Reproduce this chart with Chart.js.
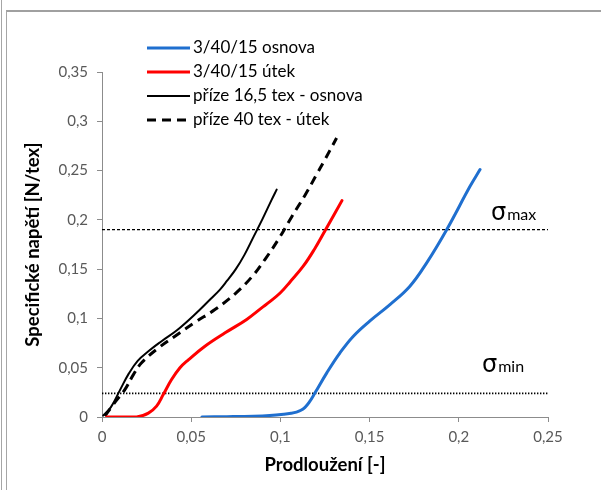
<!DOCTYPE html>
<html>
<head>
<meta charset="utf-8">
<script src="https://cdn.jsdelivr.net/npm/chart.js@4.4.1/dist/chart.umd.min.js"></script>
<style>
  html, body { margin: 0; padding: 0; background: #fff; }
  #wrap { position: relative; width: 601px; height: 490px; overflow: hidden; }
  #wrap canvas { position: absolute; left: 0; top: 0; }
  .frame-outer { position: absolute; left: 1px; top: 0; height: 490px; border-left: 1px solid #a6a6a6; }
  .frame-inner { position: absolute; left: 6px; top: 10px; right: 0; bottom: 0; border-left: 1px solid #a6a6a6; border-top: 2px solid #a0a0a0; }
</style>
</head>
<body>
<div id="wrap">
  <div class="frame-outer"></div>
  <div class="frame-inner"></div>
  <canvas id="chart" width="601" height="490"></canvas>
</div>
<script>
// series labels
const seriesLabels = ['3/40/15 osnova', '3/40/15 útek', 'příze 16,5 tex - osnova', 'příze 40 tex - útek'];

// 3/40/15 osnova
const osnovaX = [0.056, 0.07, 0.085, 0.094, 0.102, 0.106, 0.109, 0.1115, 0.1138, 0.116, 0.1194, 0.126, 0.1334, 0.1409, 0.1502, 0.1614, 0.1726, 0.182, 0.1932, 0.2063, 0.2119];
const osnovaY = [0.000, 0.0003, 0.0008, 0.0015, 0.0028, 0.0038, 0.005, 0.0068, 0.0098, 0.0145, 0.0245, 0.0448, 0.0651, 0.082, 0.0975, 0.114, 0.1327, 0.1564, 0.190, 0.234, 0.251];

// 3/40/15 útek
const utekX = [0.0026, 0.0194, 0.026, 0.0306, 0.0344, 0.039, 0.0437, 0.0484, 0.0577, 0.069, 0.0811, 0.0904, 0.0941, 0.100, 0.1054, 0.1128, 0.119, 0.125, 0.1345];
const utekY = [0.000, 0.000, 0.004, 0.011, 0.023, 0.038, 0.050, 0.058, 0.0718, 0.0854, 0.099, 0.112, 0.117, 0.126, 0.137, 0.153, 0.170, 0.189, 0.2195];

// příze 16,5 tex - osnova
const prize165X = [0.0007, 0.005, 0.010, 0.015, 0.020, 0.026, 0.0334, 0.042, 0.052, 0.061, 0.066, 0.070, 0.075, 0.080, 0.085, 0.090, 0.095, 0.0979];
const prize165Y = [0.0015, 0.010, 0.027, 0.044, 0.057, 0.0667, 0.0769, 0.088, 0.104, 0.120, 0.129, 0.138, 0.150, 0.165, 0.183, 0.201, 0.220, 0.2307];

// příze 40 tex - útek
const prize40X = [0.0017, 0.0063, 0.0129, 0.0176, 0.0222, 0.0316, 0.0409, 0.0521, 0.0633, 0.0746, 0.0839, 0.0914, 0.0988, 0.1063, 0.1138, 0.1203, 0.124, 0.1315];
const prize40Y = [0.001, 0.0127, 0.028, 0.043, 0.055, 0.070, 0.082, 0.096, 0.109, 0.125, 0.142, 0.160, 0.180, 0.203, 0.225, 0.246, 0.258, 0.283];

// limit lines
const sigmaMax = 0.19;
const sigmaMin = 0.024;
const limitX = [0, 0.25];

// axes
const xMin = 0, xMax = 0.25, xStep = 0.05;
const yMin = 0, yMax = 0.35, yStep = 0.05;

const FONT = "Lato, 'DejaVu Sans', sans-serif";

function toPoints(xs, ys) {
  return xs.map((x, i) => ({ x: x, y: ys[i] }));
}

function fmt(v) {
  return String(Math.round(v * 100) / 100).replace('.', ',');
}

const legendPlugin = {
  id: 'insideLegend',
  afterDraw(chart) {
    const ctx = chart.ctx;
    ctx.save();
    let row = 0;
    chart.data.datasets.forEach(ds => {
      if (!ds.label) return;
      const y = 48 + row * 24;
      ctx.beginPath();
      ctx.setLineDash(ds.borderDash || []);
      ctx.lineWidth = ds.borderWidth;
      ctx.strokeStyle = ds.borderColor;
      ctx.lineCap = 'butt';
      ctx.moveTo(147, y);
      ctx.lineTo(190, y);
      ctx.stroke();
      ctx.setLineDash([]);
      ctx.fillStyle = '#000';
      ctx.font = '17px ' + FONT;
      ctx.textBaseline = 'middle';
      ctx.textAlign = 'left';
      ctx.fillText(ds.label, 193, y);
      row++;
    });

    // sigma labels next to the limit lines
    const ys = chart.scales.y;
    const marks = [
      { sub: 'max', x: 491, y: ys.getPixelForValue(sigmaMax) - 10 },
      { sub: 'min', x: 482, y: ys.getPixelForValue(sigmaMin) - 21 }
    ];
    ctx.textBaseline = 'alphabetic';
    marks.forEach(m => {
      ctx.font = "24px 'DejaVu Sans', sans-serif";
      ctx.fillStyle = '#000';
      ctx.fillText('σ', m.x, m.y);
      const w = ctx.measureText('σ').width;
      ctx.font = '16px ' + FONT;
      ctx.fillText(m.sub, m.x + w + 1, m.y);
    });
    ctx.restore();
  }
};

const curve = { showLine: true, pointRadius: 0, tension: 0.4 };

new Chart(document.getElementById('chart'), {
  type: 'scatter',
  data: {
    datasets: [
      Object.assign({
        label: seriesLabels[0], data: toPoints(osnovaX, osnovaY),
        borderColor: '#1f6fcf', borderWidth: 3, borderCapStyle: 'round'
      }, curve),
      Object.assign({
        label: seriesLabels[1], data: toPoints(utekX, utekY),
        borderColor: '#ff0000', borderWidth: 3, borderCapStyle: 'round'
      }, curve),
      Object.assign({
        label: seriesLabels[2], data: toPoints(prize165X, prize165Y),
        borderColor: '#000000', borderWidth: 2, borderCapStyle: 'round'
      }, curve),
      Object.assign({
        label: seriesLabels[3], data: toPoints(prize40X, prize40Y),
        borderColor: '#000000', borderWidth: 3, borderDash: [9, 6]
      }, curve),
      {
        data: toPoints(limitX, [sigmaMax, sigmaMax]),
        showLine: true, borderColor: '#000000', borderWidth: 1.2, borderDash: [3, 2],
        pointRadius: 0
      },
      {
        data: toPoints(limitX, [sigmaMin, sigmaMin]),
        showLine: true, borderColor: '#000000', borderWidth: 1.6, borderDash: [1.4, 1.6],
        pointRadius: 0
      }
    ]
  },
  options: {
    responsive: false,
    animation: false,
    layout: { padding: { top: 72, right: 53, left: 0, bottom: 0 } },
    plugins: {
      legend: { display: false },
      tooltip: { enabled: false }
    },
    scales: {
      x: {
        type: 'linear',
        min: xMin, max: xMax,
        afterFit: s => { s.height = 73; },
        ticks: {
          stepSize: xStep, padding: 6, color: '#595959',
          font: { family: FONT, size: 15 },
          callback: v => fmt(v)
        },
        grid: { drawOnChartArea: false, drawTicks: true, tickLength: 5, color: '#8c8c8c' },
        border: { color: '#8c8c8c', width: 1 },
        title: {
          display: true, text: 'Prodloužení [-]', color: '#000',
          font: { family: FONT, size: 18.5, weight: 'bold' },
          padding: { top: 0, bottom: 14 }
        }
      },
      y: {
        type: 'linear',
        min: yMin, max: yMax,
        afterFit: s => { s.width = 102; },
        ticks: {
          stepSize: yStep, padding: 9, color: '#595959',
          font: { family: FONT, size: 15 },
          callback: v => fmt(v)
        },
        grid: { drawOnChartArea: false, drawTicks: true, tickLength: 5, color: '#8c8c8c' },
        border: { color: '#8c8c8c', width: 1 },
        title: {
          display: true, text: 'Specifické napětí [N/tex]', color: '#000',
          font: { family: FONT, size: 18.5, weight: 'bold' },
          padding: { top: 22, bottom: 0 }
        }
      }
    }
  },
  plugins: [legendPlugin]
});
</script>
</body>
</html>
